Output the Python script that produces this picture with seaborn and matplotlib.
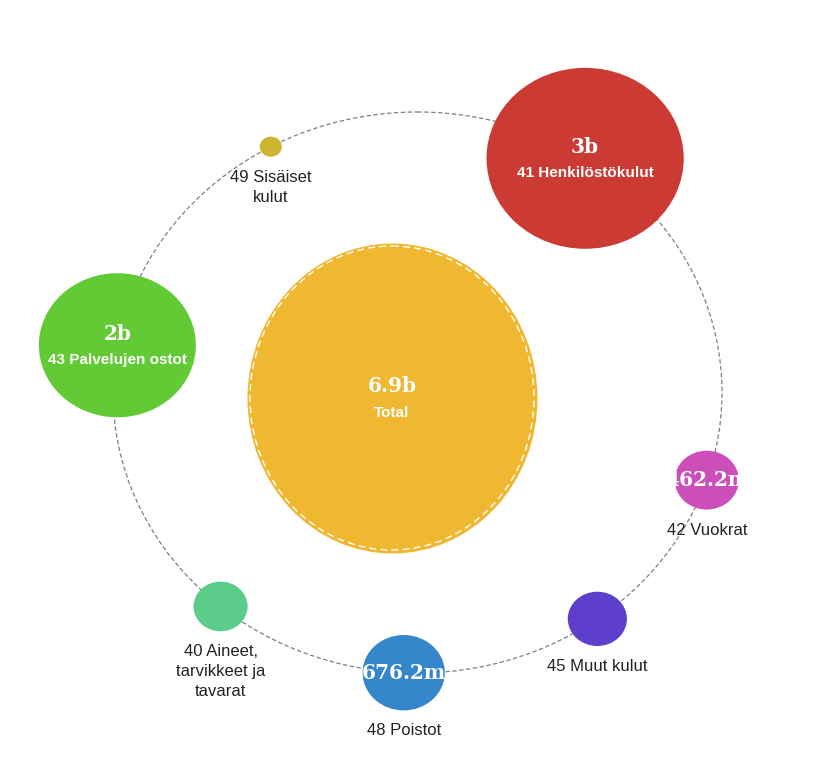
import numpy as np
import pandas as pd
import seaborn as sns
import matplotlib.pyplot as plt
from matplotlib.path import Path
from matplotlib.transforms import Affine2D
from matplotlib.patches import Ellipse

# data
names = ["41 Henkilöstökulut", "49 Sisäiset\nkulut", "43 Palvelujen ostot",
         "40 Aineet,\ntarvikkeet ja\ntavarat", "48 Poistot", "45 Muut kulut", "42 Vuokrat"]
values = [3.0e9, 0.12e9, 2.0e9, 0.36e9, 676.2e6, 0.41e9, 462.2e6]
colors = ["#CC3B33", "#CDB531", "#62CA34", "#5BCC8A", "#3686CB", "#5E3FCC", "#CC4FB9"]
total_name = "Total"
total_value = 6.9e9
total_color = "#F0B731"

# layout (pixels, y down)
angles = [56.6, 118.8, 170.3, 229.7, 267.4, 306.2, 341.8]
orbit_cx, orbit_cy, orbit_a, orbit_b = 417.5, 392.5, 304.5, 280.5
total_cx, total_cy, total_rx, total_ry = 392, 398, 145, 155
stretch = 1.09


def radius(v):
    return 58 * np.sqrt(v / 1e9) - 10


def fmt(v):
    if v >= 1e9:
        return f"{v / 1e9:.1f}".rstrip("0").rstrip(".") + "b"
    return f"{v / 1e6:.1f}".rstrip("0").rstrip(".") + "m"


def ellipse_marker(sx, sy):
    c = Path.unit_circle()
    return Path(Affine2D().scale(sx, sy).transform(c.vertices), c.codes)


sns.set_style("white")
plt.rcParams["font.family"] = ["Liberation Sans", "DejaVu Sans"]

fig = plt.figure(figsize=(8.29, 7.63), dpi=100)
ax = fig.add_axes([0, 0, 1, 1])
ax.set_xlim(0, 829)
ax.set_ylim(763, 0)
ax.axis("off")

df = pd.DataFrame({"name": names, "value": values, "color": colors, "angle": angles})
t = np.radians(df["angle"])
df["x"] = orbit_cx + orbit_a * np.cos(t)
df["y"] = orbit_cy - orbit_b * np.sin(t)
df["ry"] = radius(df["value"])
df["rx"] = df["ry"] * stretch
px2pt = 72 / fig.dpi
df["s"] = (2 * df["rx"] * px2pt) ** 2

# orbit
ax.add_patch(Ellipse((orbit_cx, orbit_cy), 2 * orbit_a, 2 * orbit_b, fill=False,
                     ec="#7f7f7f", lw=0.9, ls=(0, (3.5, 2)), zorder=1))

# total bubble
tot = pd.DataFrame({"name": [total_name], "x": [total_cx], "y": [total_cy]})
sns.scatterplot(data=tot, x="x", y="y", color=total_color, s=(2 * total_ry * px2pt) ** 2,
                marker=ellipse_marker(total_rx / total_ry, 1), linewidth=0, legend=False,
                ax=ax, zorder=2)
ax.add_patch(Ellipse((total_cx, total_cy), 2 * (total_rx - 3), 2 * (total_ry - 3), fill=False,
                     ec="white", lw=1, ls=(0, (5, 3)), zorder=4))
ax.text(total_cx, total_cy - 12, fmt(total_value), color="white", ha="center", va="center",
        fontsize=14.5, fontweight="bold", family="DejaVu Serif", zorder=5)
ax.text(total_cx, total_cy + 15, total_name, color="white", ha="center", va="center",
        fontsize=11, fontweight="bold", zorder=5)

# component bubbles
sns.scatterplot(data=df, x="x", y="y", hue="name", palette=dict(zip(names, colors)),
                size="name", sizes=dict(zip(names, df["s"])), marker=ellipse_marker(stretch, 1),
                linewidth=0, legend=False, ax=ax, zorder=3)

for _, r in df.iterrows():
    if r["value"] >= 1e9:
        ax.text(r["x"], r["y"] - 11, fmt(r["value"]), color="white", ha="center", va="center",
                fontsize=14.5, fontweight="bold", family="DejaVu Serif", zorder=5)
        ax.text(r["x"], r["y"] + 15, r["name"], color="white", ha="center", va="center",
                fontsize=11, fontweight="bold", zorder=5)
        continue
    if r["value"] >= 0.45e9:
        clip = Ellipse((r["x"], r["y"]), 2 * r["rx"], 2 * r["ry"], transform=ax.transData)
        txt = ax.text(r["x"], r["y"], fmt(r["value"]), color="white", ha="center", va="center",
                      fontsize=14.5, fontweight="bold", family="DejaVu Serif", zorder=5)
        txt.set_clip_path(clip)
    ax.text(r["x"], r["y"] + r["ry"] + 13, r["name"], color="#222222", ha="center", va="top",
            fontsize=12, linespacing=1.4, zorder=5)

fig.savefig("out.png", dpi=100)
